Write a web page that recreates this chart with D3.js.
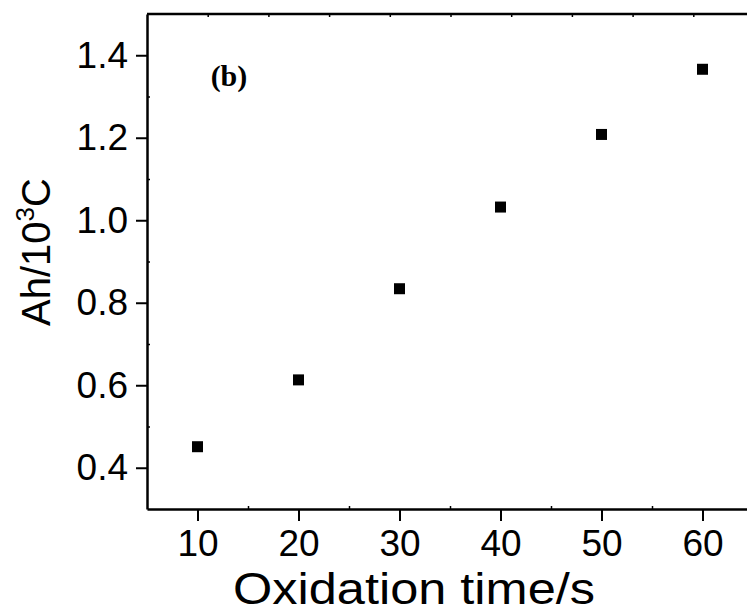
<!DOCTYPE html>
<html>
<head>
<meta charset="utf-8">
<script src="https://cdn.jsdelivr.net/npm/d3@7"></script>
<style>
  body { margin: 0; background: #fff; }
  svg { display: block; }
  .axis text { font-family: "Liberation Sans", Arial, sans-serif; }
</style>
</head>
<body>
<div id="chart"></div>
<script>
// oxidation time (s) vs Ah / 10^3 C
var times = [10, 20, 30, 40, 50, 60];
var ahValues = [0.451, 0.613, 0.834, 1.032, 1.208, 1.366];
var xTicks = [10, 20, 30, 40, 50, 60];
var yTicks = [0.4, 0.6, 0.8, 1.0, 1.2, 1.4];
var xTitle = "Oxidation time/s";
var panelLabel = "(b)";

var width = 747,
    height = 612;

var svg = d3.select("#chart")
  .append("svg")
  .attr("width", width)
  .attr("height", height);

var mLeft = 147, mTop = 14, mBottom = 509;

var x = d3.scaleLinear().domain([5, 65]).range([mLeft, mLeft + 606]);
var y = d3.scaleLinear().domain([0.3, 1.5]).range([mBottom, mTop]);
// frame top has its own faint ticks
var xTop = d3.scaleLinear().domain([0, 10]).range([mLeft, mLeft + 607]);

var black = "#000";

// minor ticks, inward
svg.append("g")
  .attr("transform", "translate(0," + mBottom + ")")
  .call(d3.axisBottom(x).tickValues(d3.range(15, 65, 10)).tickSize(-3).tickFormat(""))
  .call(function(g) { g.select(".domain").remove(); })
  .selectAll("line").attr("stroke-width", 1.5);

svg.append("g")
  .attr("transform", "translate(" + mLeft + ",0)")
  .call(d3.axisLeft(y).tickValues(d3.range(0.5, 1.5, 0.2)).tickSize(-3).tickFormat(""))
  .call(function(g) { g.select(".domain").remove(); })
  .selectAll("line").attr("stroke-width", 1.5);

svg.append("g")
  .attr("transform", "translate(0," + mTop + ")")
  .call(d3.axisTop(xTop).tickValues(d3.range(1, 10)).tickSize(-3).tickFormat(""))
  .call(function(g) { g.select(".domain").remove(); })
  .selectAll("line").attr("stroke-width", 1.5);

// major axes
var xAxis = svg.append("g")
  .attr("class", "axis")
  .attr("transform", "translate(0," + mBottom + ")")
  .call(d3.axisBottom(x).tickValues(xTicks).tickSize(12).tickPadding(9).tickSizeOuter(0));
xAxis.select(".domain").attr("stroke-width", 2.5);
xAxis.selectAll(".tick line").attr("stroke-width", 2);
xAxis.selectAll("text").attr("font-size", 37).attr("fill", black);

var yAxis = svg.append("g")
  .attr("class", "axis")
  .attr("transform", "translate(" + mLeft + ",0)")
  .call(d3.axisLeft(y).tickValues(yTicks).tickSize(11).tickPadding(8).tickSizeOuter(0)
    .tickFormat(d3.format(".1f")));
yAxis.select(".domain").attr("stroke-width", 2.5);
yAxis.selectAll(".tick line").attr("stroke-width", 2);
yAxis.selectAll("text").attr("font-size", 37).attr("fill", black);

// top frame line
svg.append("line")
  .attr("x1", mLeft).attr("x2", width)
  .attr("y1", mTop).attr("y2", mTop)
  .attr("stroke", black).attr("stroke-width", 2.5);

// data
var s = 11;
svg.selectAll(".pt")
  .data(times)
  .enter().append("rect")
  .attr("class", "pt")
  .attr("x", function(d) { return x(d) - s / 2; })
  .attr("y", function(d, i) { return y(ahValues[i]) - s / 2; })
  .attr("width", s)
  .attr("height", s)
  .attr("fill", black);

// titles - x title is drawn a bit wide, like the original
svg.append("text")
  .attr("x", 414)
  .attr("y", 604)
  .attr("text-anchor", "middle")
  .attr("font-family", "Liberation Sans, Arial, sans-serif")
  .attr("font-size", 44)
  .attr("textLength", 362)
  .attr("lengthAdjust", "spacingAndGlyphs")
  .text(xTitle);

var yt = svg.append("text")
  .attr("transform", "translate(50," + 252 + ") rotate(-90)")
  .attr("text-anchor", "middle")
  .attr("font-family", "Liberation Sans, Arial, sans-serif")
  .attr("font-size", 40);
yt.append("tspan").text("Ah/10");
yt.append("tspan").attr("font-size", 26).attr("dy", -16).text("3");
yt.append("tspan").attr("dy", 16).text("C");

svg.append("text")
  .attr("x", x(11.3))
  .attr("y", y(1.325))
  .attr("font-family", "Liberation Serif, Times New Roman, serif")
  .attr("font-weight", "bold")
  .attr("font-size", 30)
  .text(panelLabel);
</script>
</body>
</html>
